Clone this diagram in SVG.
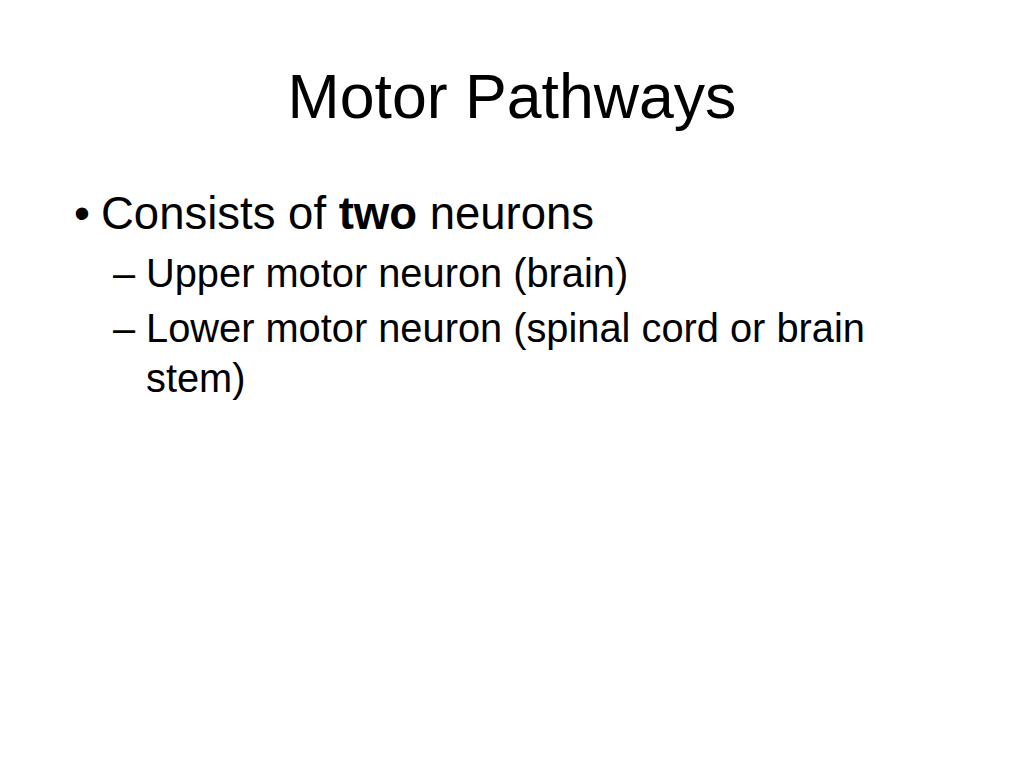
<svg xmlns="http://www.w3.org/2000/svg" width="1024" height="768" viewBox="0 0 1024 768">
<style>
text{font-family:"Liberation Sans",Arial,sans-serif;fill:#000}
.t{font-size:62.6px}
.b1{font-size:45.5px}
.b2{font-size:39.8px}
</style>
<rect width="1024" height="768" fill="#fff"/>
<g id="title"><text class="t" x="512" y="118" text-anchor="middle">Motor Pathways</text></g>
<g id="bullet1"><text class="b1" x="74" y="229">•</text><text class="b1" x="101" y="229">Consists of <tspan font-weight="bold">two</tspan> neurons</text></g>
<g id="bullet2"><text class="b2" x="113" y="287">–</text><text class="b2" x="146" y="287">Upper motor neuron (brain)</text></g>
<g id="bullet3"><text class="b2" x="113" y="342">–</text><text class="b2" x="146" y="342">Lower motor neuron (spinal cord or brain</text><text class="b2" x="146" y="392">stem)</text></g>
</svg>
